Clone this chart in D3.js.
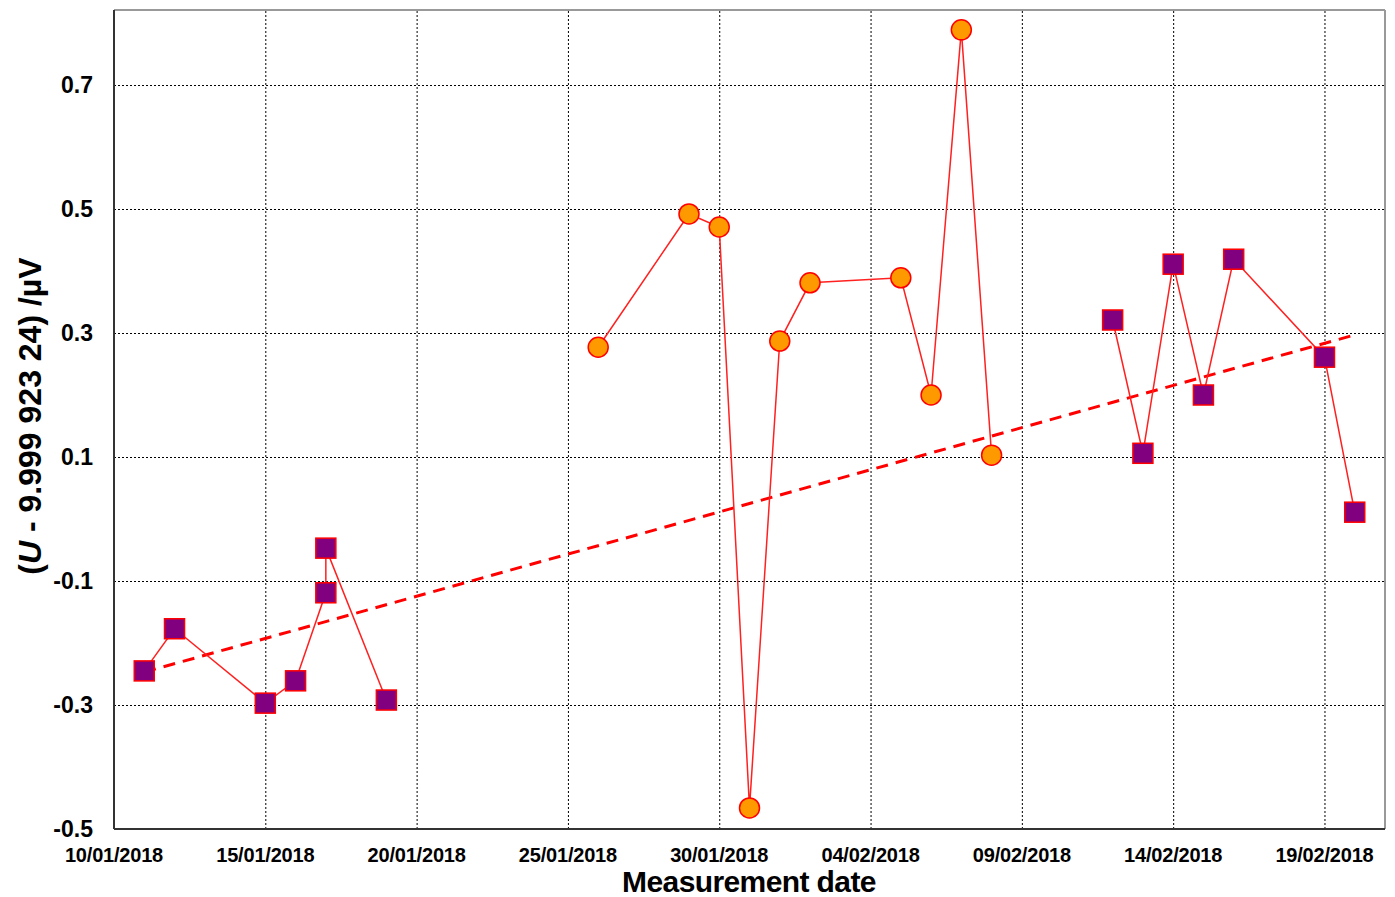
<!DOCTYPE html>
<html>
<head>
<meta charset="utf-8">
<script src="https://cdn.jsdelivr.net/npm/d3@7"></script>
<style>
  body { margin: 0; background: #fff; }
  text { font-family: "Liberation Sans", Arial, sans-serif; }
</style>
</head>
<body>
<div id="container"></div>
<script>
const width = 1395,
  height = 897,
  margin = { top: 10, bottom: 67, left: 114, right: 10 };

/** -------------- DATA -------------- */

const parse = d3.timeParse("%d/%m/%Y");

// first run (squares)
const run1Dates = ["11/01/2018", "12/01/2018", "15/01/2018", "16/01/2018", "17/01/2018", "17/01/2018", "19/01/2018"];
const run1Values = [-0.245, -0.177, -0.297, -0.261, -0.119, -0.047, -0.292];

// second run (circles)
const run2Dates = ["26/01/2018", "29/01/2018", "30/01/2018", "31/01/2018", "01/02/2018", "02/02/2018", "05/02/2018", "06/02/2018", "07/02/2018", "08/02/2018"];
const run2Values = [0.277, 0.492, 0.471, -0.466, 0.287, 0.381, 0.389, 0.200, 0.789, 0.103];

// third run (squares)
const run3Dates = ["12/02/2018", "13/02/2018", "14/02/2018", "15/02/2018", "16/02/2018", "19/02/2018", "20/02/2018"];
const run3Values = [0.321, 0.106, 0.411, 0.200, 0.419, 0.261, 0.011];

// linear trend
const trendDates = ["11/01/2018", "20/02/2018"];
const trendValues = [-0.247, 0.297];

const xTicks = ["10/01/2018", "15/01/2018", "20/01/2018", "25/01/2018", "30/01/2018", "04/02/2018", "09/02/2018", "14/02/2018", "19/02/2018"];
const yTicks = [-0.5, -0.3, -0.1, 0.1, 0.3, 0.5, 0.7];

const zip = (ds, vs) => ds.map((d, i) => ({ date: parse(d), value: vs[i] }));
const run1 = zip(run1Dates, run1Values),
  run2 = zip(run2Dates, run2Values),
  run3 = zip(run3Dates, run3Values),
  trend = zip(trendDates, trendValues);

/** -------------- SCALES -------------- */

const x = d3.scaleTime(
  [parse("10/01/2018"), parse("21/02/2018")],
  [margin.left, width - margin.right]
);
const y = d3.scaleLinear(
  [-0.5, 0.821],
  [height - margin.bottom - 1, margin.top]
);

/** -------------- APPEND TO DOM -------------- */

const svg = d3.select("#container")
  .append("svg")
  .attr("width", width)
  .attr("height", height);

// grid
svg.append("g")
  .attr("transform", `translate(0, ${height - margin.bottom - 1})`)
  .call(d3.axisBottom(x).tickValues(xTicks.map(parse))
    .tickSize(-(height - margin.bottom - 1 - margin.top)).tickFormat(""))
  .call(g => g.select(".domain").remove())
  .call(g => g.selectAll("line").attr("stroke", "#000").attr("stroke-dasharray", "2,2"));

svg.append("g")
  .attr("transform", `translate(${margin.left}, 0)`)
  .call(d3.axisLeft(y).tickValues(yTicks)
    .tickSize(-(width - margin.right - margin.left)).tickFormat(""))
  .call(g => g.select(".domain").remove())
  .call(g => g.selectAll("line").attr("stroke", "#000").attr("stroke-dasharray", "2,2"));

// frame
svg.append("line")
  .attr("x1", margin.left).attr("x2", width - margin.right)
  .attr("y1", margin.top).attr("y2", margin.top)
  .attr("stroke", "#999").attr("stroke-width", 2);
svg.append("line")
  .attr("x1", width - margin.right).attr("x2", width - margin.right)
  .attr("y1", margin.top).attr("y2", height - margin.bottom - 1)
  .attr("stroke", "#999").attr("stroke-width", 2);
svg.append("line")
  .attr("x1", margin.left).attr("x2", margin.left)
  .attr("y1", margin.top).attr("y2", height - margin.bottom - 1)
  .attr("stroke", "#333").attr("stroke-width", 2);
svg.append("line")
  .attr("x1", margin.left).attr("x2", width - margin.right)
  .attr("y1", height - margin.bottom - 1).attr("y2", height - margin.bottom - 1)
  .attr("stroke", "#333").attr("stroke-width", 2);

// tick labels
svg.append("g")
  .selectAll("text")
  .data(yTicks)
  .join("text")
    .attr("x", 93)
    .attr("y", d => y(d) + 8)
    .attr("text-anchor", "end")
    .attr("font-size", 23)
    .attr("font-weight", "bold")
    .text(d => d);

svg.append("g")
  .selectAll("text")
  .data(xTicks)
  .join("text")
    .attr("x", d => x(parse(d)))
    .attr("y", 862)
    .attr("text-anchor", "middle")
    .attr("font-size", 20)
    .attr("font-weight", "bold")
    .attr("letter-spacing", -0.2)
    .text(d => d);

// axis titles
svg.append("text")
  .attr("x", 749)
  .attr("y", 892)
  .attr("text-anchor", "middle")
  .attr("font-size", 30)
  .attr("font-weight", "bold")
  .attr("letter-spacing", -0.6)
  .text("Measurement date");

const yTitle = svg.append("text")
  .attr("transform", "translate(41, 416) rotate(-90)")
  .attr("text-anchor", "middle")
  .attr("font-size", 32)
  .attr("font-weight", "bold");
yTitle.append("tspan").text("(");
yTitle.append("tspan").attr("font-style", "italic").text("U");
yTitle.append("tspan").text(" - 9.999 923 24) /µV");

// trend
const line = d3.line(d => x(d.date), d => y(d.value));

svg.append("path")
  .datum(trend)
  .attr("d", line)
  .attr("fill", "none")
  .attr("stroke", "#ff0000")
  .attr("stroke-width", 3)
  .attr("stroke-dasharray", "12,8");

// runs
[run1, run2, run3].forEach(run => {
  svg.append("path")
    .datum(run)
    .attr("d", line)
    .attr("fill", "none")
    .attr("stroke", "#ff2020")
    .attr("stroke-width", 1.5);
});

[run1, run3].forEach(run => {
  svg.append("g")
    .selectAll("rect")
    .data(run)
    .join("rect")
      .attr("x", d => x(d.date) - 10)
      .attr("y", d => y(d.value) - 10)
      .attr("width", 20)
      .attr("height", 20)
      .attr("fill", "#800080")
      .attr("stroke", "#ff0000")
      .attr("stroke-width", 1.5);
});

svg.append("g")
  .selectAll("circle")
  .data(run2)
  .join("circle")
    .attr("cx", d => x(d.date))
    .attr("cy", d => y(d.value))
    .attr("r", 10)
    .attr("fill", "#ff9900")
    .attr("stroke", "#ff0000")
    .attr("stroke-width", 1.5);
</script>
</body>
</html>
